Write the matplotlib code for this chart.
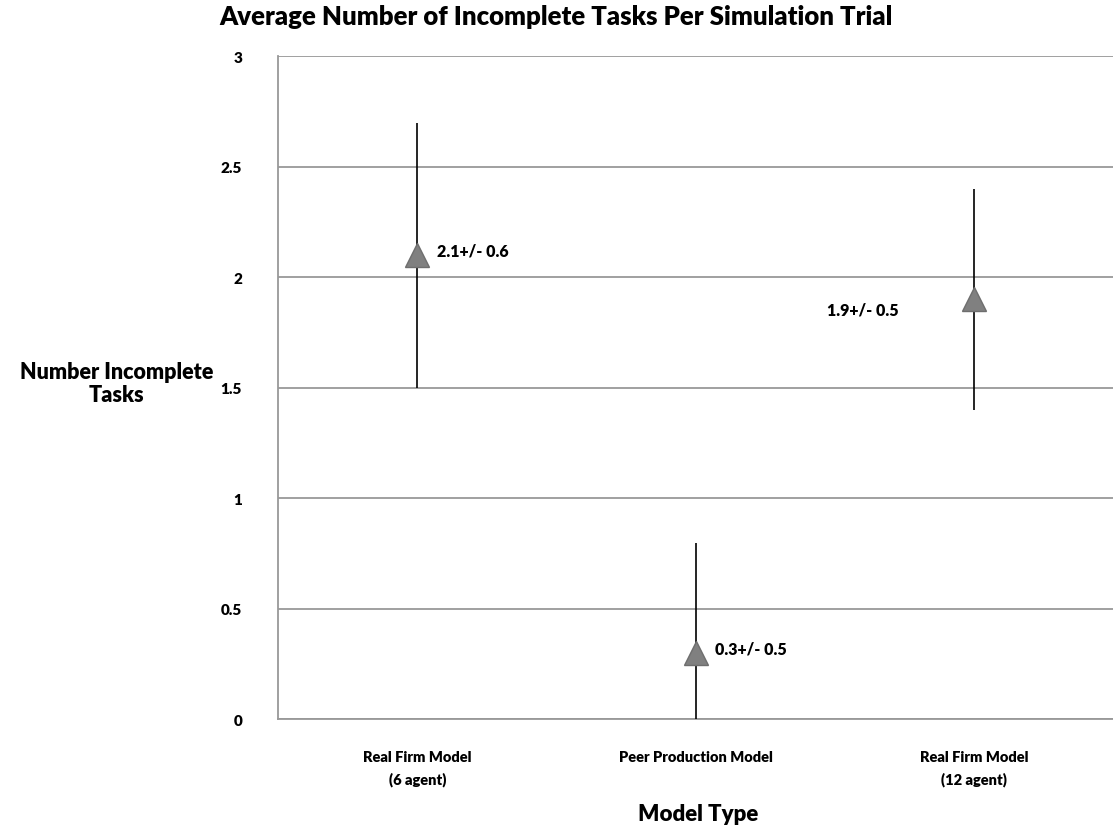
import matplotlib.pyplot as plt
import numpy as np

plt.rcParams['font.family'] = ['Lato', 'DejaVu Sans']
plt.rcParams['font.weight'] = 'heavy'

models = ["Real Firm Model\n(6 agent)", "Peer Production Model", "Real Firm Model\n(12 agent)"]
means = [2.1, 0.3, 1.9]
errors = [0.6, 0.5, 0.5]
labels = ["2.1+/- 0.6", "0.3+/- 0.5", "1.9+/- 0.5"]
label_side = ["right", "right", "left"]

W = 'heavy'

fig = plt.figure(figsize=(11.13, 8.29), dpi=100)
ax = fig.add_axes([0.25, 0.131, 0.75, 0.8])

x = np.arange(1, len(models) + 1)
ax.errorbar(x, means, yerr=errors, fmt='none', ecolor='black', elinewidth=1.2, capsize=0, zorder=3)
ax.plot(x, means, linestyle='none', marker='^', markersize=17,
        markerfacecolor='#808080', markeredgecolor='#6e6e6e', zorder=4)

for xi, yi, txt, side in zip(x, means, labels, label_side):
    if side == "right":
        ax.annotate(txt, (xi, yi), xytext=(14, 3), textcoords='offset points',
                    ha='left', va='center', fontsize=11.5, fontweight=W)
    else:
        ax.annotate(txt, (xi, yi), xytext=(-54, -7), textcoords='offset points',
                    ha='right', va='center', fontsize=11.5, fontweight=W)

ax.set_xlim(0.5, 3.5)
ax.set_ylim(0, 3)
ax.set_yticks(np.arange(0, 3.01, 0.5))
ax.set_yticklabels(["0", "0.5", "1", "1.5", "2", "2.5", "3"], fontsize=11, fontweight=W)
ax.set_xticks(x)
ax.set_xticklabels(models, fontsize=10.5, fontweight=W, linespacing=1.7)
ax.tick_params(axis='both', length=0)
ax.tick_params(axis='y', pad=26)
ax.tick_params(axis='x', pad=22)

ax.grid(axis='y', color='#999999', linewidth=1.3)
ax.set_axisbelow(True)
for s in ['top', 'right']:
    ax.spines[s].set_visible(False)
for s in ['left', 'bottom']:
    ax.spines[s].set_color('#999999')
    ax.spines[s].set_linewidth(1.3)

fig.text(0.5, 0.979, "Average Number of Incomplete Tasks Per Simulation Trial",
         ha='center', va='center', fontsize=18.5, fontweight=W)
fig.text(0.105, 0.537, "Number Incomplete\nTasks", ha='center', va='center',
         fontsize=15.5, fontweight=W, linespacing=1.1)
fig.text(0.627, 0.018, "Model Type", ha='center', va='center',
         fontsize=16, fontweight=W)

fig.savefig("out.png", dpi=100)
